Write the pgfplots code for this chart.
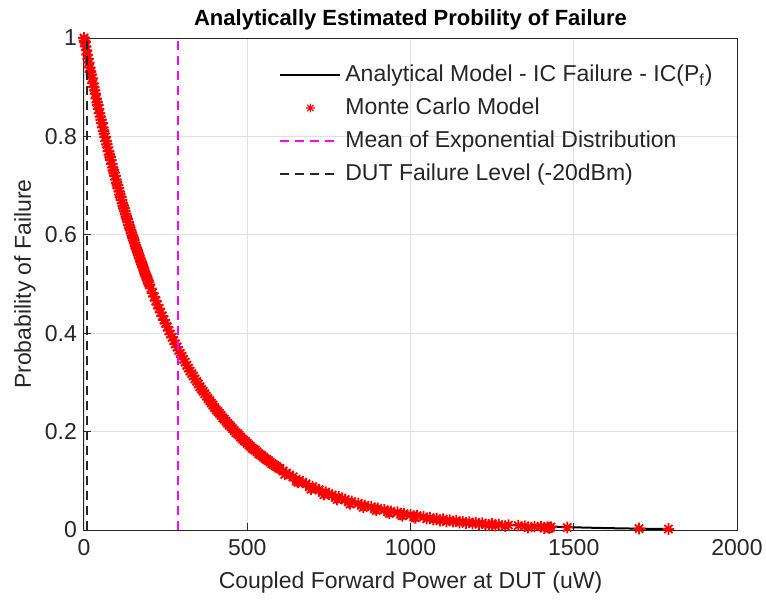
\documentclass[border=0pt]{standalone}
\usepackage{fontspec}
\setmainfont{Liberation Sans}
\usepackage{pgfplots}
\pgfplotsset{compat=1.18}
\definecolor{axgray}{rgb}{0.15,0.15,0.15}
\definecolor{gridgray}{rgb}{0.88,0.88,0.88}
\definecolor{mmag}{rgb}{1,0,1}
\definecolor{mred}{rgb}{1,0,0}
\pgfdeclareplotmark{mstar}{%
  \pgfpathmoveto{\pgfqpoint{-\pgfplotmarksize}{0pt}}\pgfpathlineto{\pgfqpoint{\pgfplotmarksize}{0pt}}%
  \pgfpathmoveto{\pgfqpoint{0pt}{-\pgfplotmarksize}}\pgfpathlineto{\pgfqpoint{0pt}{\pgfplotmarksize}}%
  \pgfpathmoveto{\pgfqpoint{-0.707\pgfplotmarksize}{-0.707\pgfplotmarksize}}\pgfpathlineto{\pgfqpoint{0.707\pgfplotmarksize}{0.707\pgfplotmarksize}}%
  \pgfpathmoveto{\pgfqpoint{-0.707\pgfplotmarksize}{0.707\pgfplotmarksize}}\pgfpathlineto{\pgfqpoint{0.707\pgfplotmarksize}{-0.707\pgfplotmarksize}}%
  \pgfusepathqstroke}
\begin{document}
\begin{tikzpicture}
\begin{axis}[
  scale only axis, width=326.5pt, height=246pt,
  xmin=0, xmax=2000, ymin=0, ymax=1,
  xtick={0,500,1000,1500,2000}, xticklabels={0,500,1000,1500,2000},
  ytick={0,0.2,0.4,0.6,0.8,1}, yticklabels={0,0.2,0.4,0.6,0.8,1},
  grid=major, major grid style={gridgray, line width=0.4pt},
  axis line style={axgray, line width=0.5pt},
  tick style={axgray, line width=0.5pt}, tick align=inside, major tick length=3.5pt,
  xtick pos=left, ytick pos=left,
  ticklabel style={font=\fontsize{11.5}{13}\selectfont, text=axgray},
  xticklabel style={yshift=-1pt},
  /pgf/number format/assume math mode=true,
  every axis title shift=0pt,
  title={Analytically Estimated Probility of Failure},
  title style={at={(axis description cs:0.5,1)}, anchor=base, yshift=6.5pt, font=\bfseries\fontsize{11}{13}\selectfont, text=black},
  xlabel={Coupled Forward Power at DUT (uW)},
  xlabel style={at={(axis description cs:0.5,0)}, anchor=base, yshift=-29pt, font=\fontsize{11.5}{13}\selectfont, text=axgray},
  ylabel={Probability of Failure},
  ylabel style={at={(axis description cs:-0.0812,0.5)}, anchor=base, font=\fontsize{11.5}{13}\selectfont, text=axgray},
  clip mode=individual,
  legend style={draw=none, fill=none, at={(axis description cs:0.2894,0.962)}, anchor=north west,
    font=\fontsize{11.5}{13}\selectfont, text=axgray, row sep=2.7pt},
  legend cell align=left,
  legend image code/.code={\draw[mark repeat=2,mark phase=2,#1] plot coordinates {(0pt,0pt) (15pt,0pt) (30pt,0pt)};},
]
\addplot[black, line width=1pt] coordinates {
(0,1.0) (10,0.96587) (20,0.93291) (30,0.90107) (40,0.87033) (50,0.84063) (60,0.81194) (70,0.78423) (80,0.75747) (90,0.73162)
(100,0.70665) (110,0.68254) (120,0.65924) (130,0.63675) (140,0.61502) (150,0.59403) (160,0.57376) (170,0.55418) (180,0.53526) (190,0.51700)
(200,0.49935) (220,0.46585) (240,0.43460) (260,0.40545) (280,0.37825) (300,0.35287) (320,0.32920) (340,0.30711) (360,0.28651) (380,0.26729)
(400,0.24936) (420,0.23263) (440,0.21702) (460,0.20246) (480,0.18888) (500,0.17621) (550,0.14813) (600,0.12452) (650,0.10472) (700,0.08799)
(750,0.07396) (800,0.06218) (850,0.05227) (900,0.04394) (950,0.03693) (1000,0.03105) (1100,0.02194) (1200,0.01550) (1300,0.01095)
(1400,0.00774) (1500,0.00547) (1600,0.00386) (1700,0.00273) (1800,0.00193)
};
\addlegendentry{Analytical Model - IC Failure - IC(P\textsubscript{f})}
\addplot[only marks, mred, mark=mstar, mark size=2.9pt, line width=0.9pt, legend image post style={mark size=2.2pt, line width=0.6pt}] coordinates {
(0,1.000) (3,0.992) (5,0.983) (8,0.975) (10,0.966) (15,0.950) (20,0.931) (25,0.918) (30,0.900) (35,0.887) (40,0.869) (45,0.856)
(50,0.840) (55,0.827) (60,0.811) (65,0.799) (70,0.784) (75,0.770) (80,0.758) (85,0.744) (90,0.731) (95,0.720) (100,0.706)
(105,0.695) (110,0.682) (115,0.671) (120,0.659) (125,0.648) (130,0.636) (135,0.626) (140,0.615) (145,0.604) (150,0.594)
(155,0.584) (160,0.573) (165,0.564) (170,0.554) (175,0.545) (180,0.535) (185,0.526) (190,0.517) (195,0.508) (200,0.499)
(1.5,0.995) (12.5,0.958) (17.5,0.940) (22.5,0.926) (27.5,0.908) (32.5,0.894) (37.5,0.877) (42.5,0.864) (47.5,0.847)
(52.5,0.834) (57.5,0.818) (62.5,0.806) (67.5,0.790) (72.5,0.778) (77.5,0.763) (82.5,0.752) (87.5,0.737) (92.5,0.726) (97.5,0.712)
(102.5,0.701) (107.5,0.688) (112.5,0.677) (117.5,0.664) (122.5,0.654) (127.5,0.642) (132.5,0.632) (137.5,0.620) (142.5,0.610) (147.5,0.599)
(152.5,0.589) (157.5,0.578) (162.5,0.569) (167.5,0.559) (172.5,0.550) (177.5,0.540) (182.5,0.531) (187.5,0.521) (192.5,0.513) (197.5,0.503)
(205,0.491) (215,0.474) (225,0.458) (235,0.442) (245,0.427) (255,0.413) (265,0.398) (275,0.385) (285,0.372) (295,0.359)
(305,0.347) (315,0.335) (325,0.323) (335,0.313) (345,0.302) (355,0.291) (365,0.282) (375,0.272) (385,0.263) (395,0.254)
(210,0.482) (220,0.466) (230,0.450) (240,0.435) (250,0.420) (260,0.405) (270,0.392) (280,0.378) (290,0.365) (300,0.353)
(310,0.341) (320,0.329) (330,0.318) (340,0.307) (350,0.297) (360,0.286) (370,0.277) (380,0.267) (390,0.258) (400,0.249)
(410,0.241) (420,0.233) (430,0.225) (440,0.217) (450,0.210) (460,0.202) (470,0.196) (480,0.189) (490,0.182) (500,0.176)
(405,0.244) (415,0.237) (425,0.228) (435,0.221) (445,0.213) (455,0.206) (465,0.198) (475,0.193) (485,0.185) (495,0.180)
(510,0.170) (520,0.164) (530,0.159) (540,0.153) (550,0.148) (560,0.143) (570,0.138) (580,0.133) (590,0.129) (600,0.125)
(505,0.173) (515,0.166) (525,0.162) (535,0.155) (545,0.151) (555,0.145) (565,0.141) (575,0.135) (585,0.131) (595,0.126)
(610,0.120) (620,0.116) (630,0.112) (640,0.108) (660,0.101) (670,0.097) (680,0.094) (700,0.088) (710,0.084) (720,0.082)
(740,0.077) (750,0.073) (760,0.071) (780,0.067) (790,0.064) (800,0.062)
(820,0.058) (840,0.054) (860,0.050) (880,0.047) (900,0.044) (920,0.041) (940,0.038) (960,0.036) (980,0.033) (1000,0.031)
(1020,0.029) (1040,0.027) (1060,0.025) (1080,0.023) (1100,0.022) (1120,0.020) (1140,0.019) (1160,0.017) (1180,0.016) (1200,0.015)
(1220,0.014) (1250,0.013) (1270,0.011) (1300,0.010) (1330,0.009) (1350,0.008) (1380,0.007) (1400,0.007) (1420,0.006) (1430,0.006)
(1480,0.005) (1700,0.003) (1790,0.002)
(650,0.100) (690,0.088) (730,0.076) (770,0.066) (810,0.057) (850,0.050) (890,0.043) (930,0.037) (970,0.032) (1010,0.027)
(1050,0.023) (1090,0.019) (1130,0.017) (1170,0.014) (1210,0.012) (1240,0.010) (1260,0.009) (1290,0.008) (1360,0.005) (1410,0.004) (1425,0.004)
(615,0.113) (655,0.097) (695,0.083) (735,0.072) (775,0.062) (815,0.053) (855,0.046) (895,0.040) (935,0.034) (975,0.029)
(1015,0.025) (1070,0.021) (1110,0.017) (1150,0.015) (1190,0.013) (1230,0.011)
};
\addlegendentry{Monte Carlo Model}
\addplot[mmag, line width=1pt, dash pattern=on 4.5pt off 3pt] coordinates {(288,0) (288,1)};
\addlegendentry{Mean of Exponential Distribution}
\addplot[black!85, line width=1pt, dash pattern=on 4.5pt off 3pt] coordinates {(10,0) (10,1)};
\addlegendentry{DUT Failure Level (-20dBm)}
\end{axis}
\pgfresetboundingbox
\path (current axis.south west) ++(-42pt,-36pt) rectangle ++(383pt,301pt);
\end{tikzpicture}
\end{document}
